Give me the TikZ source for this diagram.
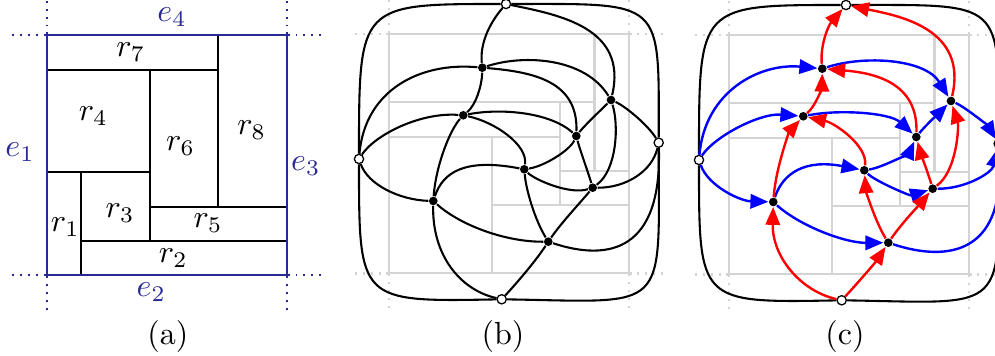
\documentclass[tikz,border=0pt]{standalone}
\usetikzlibrary{arrows.meta}
\definecolor{frameblue}{rgb}{0.16,0.16,0.58}
\definecolor{floorgrey}{gray}{0.83}
\tikzset{
  wall/.style={line width=0.65pt, black},
  frame/.style={line width=0.7pt, frameblue},
  framedots/.style={frameblue, line width=0.7pt, dash pattern=on 0.6pt off 1.85pt},
  gwall/.style={floorgrey, line width=0.65pt},
  gdots/.style={floorgrey, line width=0.7pt, dash pattern=on 0.6pt off 1.85pt},
  vtx/.style={circle, fill=black, inner sep=0pt, minimum size=2.7pt},
  ovtx/.style={circle, draw=black, fill=white, line width=0.4pt, inner sep=0pt, minimum size=2.9pt},
  gedge/.style={line width=0.65pt, black},
  bedge/.style={line width=0.75pt, blue, -{Triangle[length=5.6pt,width=4.5pt]}},
  redge/.style={line width=0.75pt, red, -{Triangle[length=5.6pt,width=4.5pt]}},
  eo/.style={line width=0.65pt, black},
  lab/.style={inner sep=0pt},
  elab/.style={inner sep=0pt, text=frameblue},
}
\newcommand\gfloor{%
  \begin{scope}[shift={(389.3,273.4)}, x=10.6875pt, y=10.6875pt]
    \draw[gwall] (0,0) rectangle (7,7);
    \draw[gwall] (6,7) -- (6,3) (0,5) -- (6,5) (0,4) -- (5,4) (5,5) -- (5,2)
      (3,4) -- (3,0) (5,3) -- (7,3) (3,2) -- (7,2);
    \draw[gdots] (-1,0) -- (0,0) (8,0) -- (7,0) (-1,7) -- (0,7) (8,7) -- (7,7)
      (0,-1) -- (0,0) (0,8) -- (0,7) (7,-1) -- (7,0) (7,8) -- (7,7);
  \end{scope}}
\newcommand\gnodes[1]{%
  \node[ovtx] (#1T) at (506,4) {};
  \node[ovtx] (#1L) at (359,159) {};
  \node[ovtx] (#1R) at (658.7,142.7) {};
  \node[ovtx] (#1Bo) at (501.7,299.3) {};
  \node[vtx] (#1A) at (482.3,67.7) {};
  \node[vtx] (#1B) at (611,100) {};
  \node[vtx] (#1C) at (463.3,115.3) {};
  \node[vtx] (#1D) at (576.3,136) {};
  \node[vtx] (#1E) at (524.3,169.3) {};
  \node[vtx] (#1F) at (592.7,187.7) {};
  \node[vtx] (#1G) at (433.3,201) {};
  \node[vtx] (#1H) at (548.3,241.7) {};}
\newcommand\gedges[1]{%
  \draw[eo] (#1L) .. controls (359,4) and (359,4) .. (#1T);
  \draw[eo] (#1T) .. controls (664,4) and (659,-2) .. (#1R);
  \draw[eo] (#1R) .. controls (659,315) and (670,302) .. (#1Bo);
  \draw[eo] (#1Bo) .. controls (359,302) and (359,302) .. (#1L);
  % blue family
  \draw[eb] (#1L) .. controls (365,90) and (420,62) .. (#1A);
  \draw[eb] (#1L) .. controls (375,135) and (420,112) .. (#1C);
  \draw[eb] (#1L) .. controls (368,185) and (400,200) .. (#1G);
  \draw[eb] (#1A) .. controls (525,54) and (585,58) .. (#1B);
  \draw[eb] (#1C) .. controls (500,108) and (550,112) .. (#1D);
  \draw[eb] (#1D) .. controls (585,125) and (603,108) .. (#1B);
  \draw[eb] (#1E) .. controls (545,166) and (570,150) .. (#1D);
  \draw[eb] (#1G) .. controls (443,172) and (465,158) .. (#1E);
  \draw[eb] (#1E) .. controls (535,180) and (570,195) .. (#1F);
  \draw[eb] (#1G) .. controls (460,225) and (505,242) .. (#1H);
  \draw[eb] (#1B) .. controls (625,106) and (648,125) .. (#1R);
  \draw[eb] (#1F) .. controls (625,188) and (652,172) .. (#1R);
  \draw[eb] (#1H) .. controls (610,262) and (662,250) .. (#1R);
  % red family
  \draw[er] (#1Bo) .. controls (460,290) and (432,255) .. (#1G);
  \draw[er] (#1Bo) .. controls (515,285) and (535,262) .. (#1H);
  \draw[er] (#1G) .. controls (436,165) and (450,130) .. (#1C);
  \draw[er] (#1C) .. controls (476,105) and (482,85) .. (#1A);
  \draw[er] (#1A) .. controls (480,45) and (488,25) .. (#1T);
  \draw[er] (#1B) .. controls (628,28) and (560,15) .. (#1T);
  \draw[er] (#1D) .. controls (578,82) and (535,72) .. (#1A);
  \draw[er] (#1E) .. controls (528,145) and (495,122) .. (#1C);
  \draw[er] (#1F) .. controls (588,172) and (580,150) .. (#1D);
  \draw[er] (#1F) .. controls (617,170) and (619,125) .. (#1B);
  \draw[er] (#1H) .. controls (535,220) and (526,190) .. (#1E);
  \draw[er] (#1H) .. controls (562,222) and (580,203) .. (#1F);}
\begin{document}
\begin{tikzpicture}[x=0.3125pt, y=-0.3125pt]
\useasboundingbox (0,0) rectangle (995,356);
% ---------- (a) ----------
\begin{scope}[shift={(46.7,275.3)}, x=10.714pt, y=10.714pt]
  \draw[wall] (0,6) -- (5,6) (5,7) -- (5,2) (3,6) -- (3,1) (0,3) -- (3,3)
    (1,3) -- (1,0) (1,1) -- (7,1) (3,2) -- (7,2);
  \draw[frame] (0,0) rectangle (7,7);
  \draw[framedots] (-1,0) -- (0,0) (8,0) -- (7,0) (-1,7) -- (0,7) (8,7) -- (7,7)
    (0,-1) -- (0,0) (0,8) -- (0,7) (7,-1) -- (7,0) (7,8) -- (7,7);
\end{scope}
\node[elab] (e4) at (172,17) {$e_4$};
\node[elab] (e2) at (151.3,292.5) {$e_2$};
\node[elab] (e1) at (20,152) {$e_1$};
\node[elab] (e3) at (305.8,166) {$e_3$};
\node[lab] (r7) at (130.8,52.5) {$r_7$};
\node[lab] (r4) at (93.3,116) {$r_4$};
\node[lab] (r6) at (180.5,146) {$r_6$};
\node[lab] (r8) at (251.7,130) {$r_8$};
\node[lab] (r1) at (65.3,227) {$r_1$};
\node[lab] (r3) at (120,213) {$r_3$};
\node[lab] (r5) at (208,223) {$r_5$};
\node[lab] (r2) at (173.3,258) {$r_2$};
\node[lab] (capa) at (167.8,337) {(a)};
% ---------- (b) ----------
\begin{scope}[eb/.style={gedge}, er/.style={gedge}]
  \gfloor
  \gnodes{b}
  \gedges{b}
\end{scope}
\node[lab] (capb) at (503,337) {(b)};
% ---------- (c) ----------
\begin{scope}[shift={(340,1)}, eb/.style={bedge}, er/.style={redge}]
  \gfloor
  \gnodes{c}
  \gedges{c}
\end{scope}
\node[lab] (capc) at (845,337) {(c)};
\end{tikzpicture}
\end{document}
